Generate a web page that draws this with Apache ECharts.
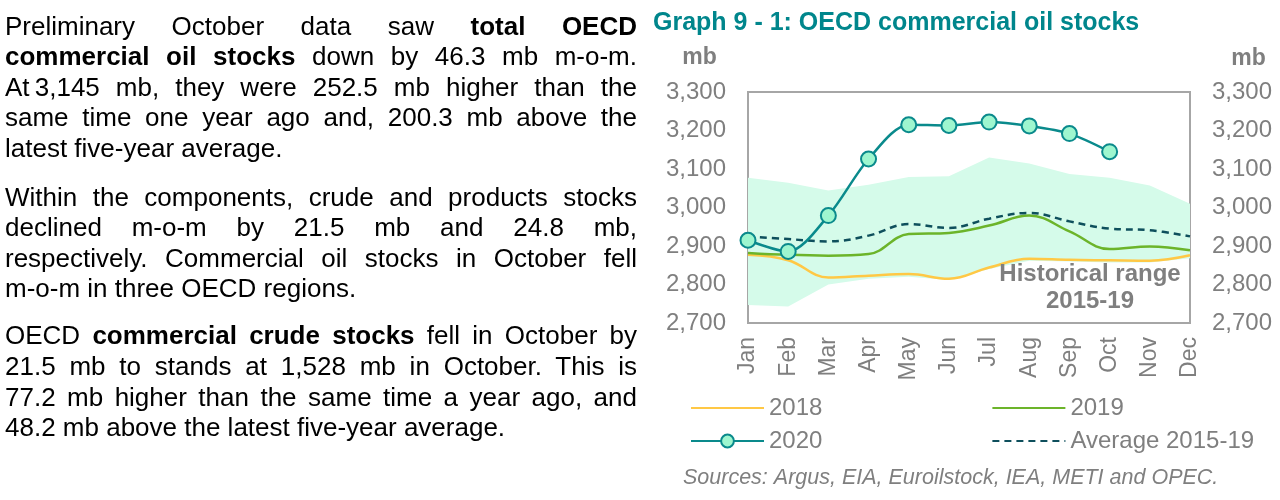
<!DOCTYPE html>
<html>
<head>
<meta charset="utf-8">
<script src="https://cdn.jsdelivr.net/npm/echarts@6/dist/echarts.min.js"></script>
<style>
  html, body { margin: 0; padding: 0; background: #fff; }
  #chart { position: absolute; left: 0; top: 0; width: 1280px; height: 500px; }
  #text {
    position: absolute; left: 5px; top: 10.6px; width: 632px;
    font-family: 'Liberation Sans', Arial, sans-serif; font-size: 26px;
    line-height: 30.6px; color: #000;
  }
  #text .j { text-align: justify; text-align-last: justify; white-space: nowrap; }
  #text .l { text-align: left; white-space: nowrap; }
  #text .nb { display: inline-block; }
  #text .p2 { margin-top: 18px; }
  #text .p3 { margin-top: 16.5px; }
</style>
</head>
<body>
<div id="chart"></div>
<div id="text">
  <div class="p1">
    <div class="j">Preliminary October data saw <b>total OECD</b></div>
    <div class="j"><b>commercial oil stocks</b> down by 46.3 mb m-o-m.</div>
    <div class="j"><span class="nb">At&#8201;3,145</span> mb, they were 252.5 mb higher than the</div>
    <div class="j">same time one year ago and, 200.3 mb above the</div>
    <div class="l">latest five-year average.</div>
  </div>
  <div class="p2">
    <div class="j">Within the components, crude and products stocks</div>
    <div class="j">declined m-o-m by 21.5 mb and 24.8 mb,</div>
    <div class="j">respectively. Commercial oil stocks in October fell</div>
    <div class="l">m-o-m in three OECD regions.</div>
  </div>
  <div class="p3">
    <div class="j">OECD <b>commercial crude stocks</b> fell in October by</div>
    <div class="j">21.5 mb to stands at 1,528 mb in October. This is</div>
    <div class="j">77.2 mb higher than the same time a year ago, and</div>
    <div class="l">48.2 mb above the latest five-year average.</div>
  </div>
</div>
<script>
// months on the x axis
var months = ['Jan', 'Feb', 'Mar', 'Apr', 'May', 'Jun', 'Jul', 'Aug', 'Sep', 'Oct', 'Nov', 'Dec'];
// mb
var stocks2018 = [2877, 2863, 2818, 2823, 2827, 2815, 2844, 2867, 2864, 2863, 2862, 2876];
var stocks2019 = [2882, 2877, 2875, 2879, 2931, 2934, 2953, 2979, 2938, 2892, 2899, 2889];
var stocks2020 = [2915, 2886, 2979, 3126, 3215, 3213, 3222, 3212, 3192, 3145];
var avg1519 = [2925, 2918, 2912, 2927, 2957, 2947, 2971, 2986, 2964, 2945, 2941, 2925];
// historical range 2015-19 (min / max)
var rangeLow = [2747, 2743, 2800, 2815, 2820, 2812, 2840, 2862, 2860, 2857, 2857, 2868];
var rangeHigh = [3077, 3064, 3044, 3059, 3079, 3081, 3130, 3114, 3087, 3077, 3057, 3010];
var yTicks = [2700, 2800, 2900, 3000, 3100, 3200, 3300];

var FONT = "'Liberation Sans', Arial, sans-serif";
var GREY = '#7f7f7f';

var chart = echarts.init(document.getElementById('chart'));

var rangeSpan = rangeHigh.map(function (v, i) { return v - rangeLow[i]; });

var yAxisBase = {
    type: 'value',
    min: yTicks[0],
    max: yTicks[yTicks.length - 1],
    interval: 100,
    axisLine: { show: false },
    axisTick: { show: false },
    splitLine: { show: false },
    axisLabel: {
        color: GREY, fontSize: 24, fontFamily: FONT, margin: 22,
        formatter: function (v) { return echarts.format.addCommas(v); }
    }
};

var legendBase = {
    left: 690,
    padding: 0,
    itemWidth: 73,
    itemHeight: 16,
    itemGap: 169,
    textStyle: { color: GREY, fontSize: 24, fontFamily: FONT },
    selectedMode: false
};
// plain line icons, no dot
var noDot = { opacity: 0 };

var option = {
    animation: false,
    grid: {
        left: 748, top: 92, width: 442, height: 231,
        show: true, borderColor: '#a6a6a6', borderWidth: 2
    },
    xAxis: {
        type: 'category',
        data: months,
        boundaryGap: false,
        axisLine: { show: false },
        axisTick: { show: false },
        axisLabel: { rotate: 90, color: GREY, fontSize: 23, fontFamily: FONT, margin: 14 }
    },
    yAxis: [
        Object.assign({}, yAxisBase, { position: 'left' }),
        Object.assign({}, yAxisBase, { position: 'right' })
    ],
    legend: [
        Object.assign({}, legendBase, { top: 396, data: [
            { name: '2018', itemStyle: noDot },
            { name: '2019', itemStyle: noDot }
        ] }),
        Object.assign({}, legendBase, { top: 429, data: [
            { name: '2020' },
            { name: 'Average 2015-19', itemStyle: noDot }
        ] })
    ],
    graphic: [
        { type: 'text', left: 653, y: 23, style: { text: 'Graph 9 - 1: OECD commercial oil stocks', fill: '#00868c', font: 'bold 25px ' + FONT, verticalAlign: 'middle' } },
        { type: 'text', x: 699.5, y: 58, style: { text: 'mb', fill: GREY, font: 'bold 23px ' + FONT, align: 'center', verticalAlign: 'middle' } },
        { type: 'text', x: 1248.5, y: 59, style: { text: 'mb', fill: GREY, font: 'bold 23px ' + FONT, align: 'center', verticalAlign: 'middle' } },
        { type: 'text', x: 1090, y: 274.7, z: 100, style: { text: 'Historical range', fill: GREY, font: 'bold 24px ' + FONT, align: 'center', verticalAlign: 'middle' } },
        { type: 'text', x: 1090, y: 301.7, z: 100, style: { text: '2015-19', fill: GREY, font: 'bold 24px ' + FONT, align: 'center', verticalAlign: 'middle' } },
        { type: 'text', x: 683, y: 478.5, style: { text: 'Sources: Argus, EIA, Euroilstock, IEA, METI and OPEC.', fill: GREY, font: 'italic 21.5px ' + FONT, verticalAlign: 'middle' } }
    ],
    series: [
        {
            name: 'rangeLow', type: 'line', stack: 'range', data: rangeLow,
            symbol: 'none', lineStyle: { opacity: 0 }, silent: true, z: 1
        },
        {
            name: 'Historical range', type: 'line', stack: 'range', data: rangeSpan,
            symbol: 'none', lineStyle: { opacity: 0 }, silent: true, z: 1,
            areaStyle: { color: '#d5fbea', opacity: 1 }
        },
        {
            name: '2018', type: 'line', data: stocks2018, smooth: 0.4, symbol: 'none', z: 3,
            itemStyle: { color: '#ffc845' }, lineStyle: { color: '#ffc845', width: 2.5 }
        },
        {
            name: '2019', type: 'line', data: stocks2019, smooth: 0.4, symbol: 'none', z: 3,
            itemStyle: { color: '#6cb42a' }, lineStyle: { color: '#6cb42a', width: 2.5 }
        },
        {
            name: 'Average 2015-19', type: 'line', data: avg1519, smooth: 0.4, symbol: 'none', z: 4,
            itemStyle: { color: '#0e4f5c' }, lineStyle: { color: '#0e4f5c', width: 2.5, type: [7, 5] }
        },
        {
            name: '2020', type: 'line', data: stocks2020, smooth: 0.3, z: 5,
            symbol: 'circle', symbolSize: 15, showAllSymbol: true,
            lineStyle: { color: '#0a8a8c', width: 2.5 },
            itemStyle: { color: '#9ef6cf', borderColor: '#0a8a8c', borderWidth: 2 }
        }
    ]
};

chart.setOption(option);
</script>
</body>
</html>
